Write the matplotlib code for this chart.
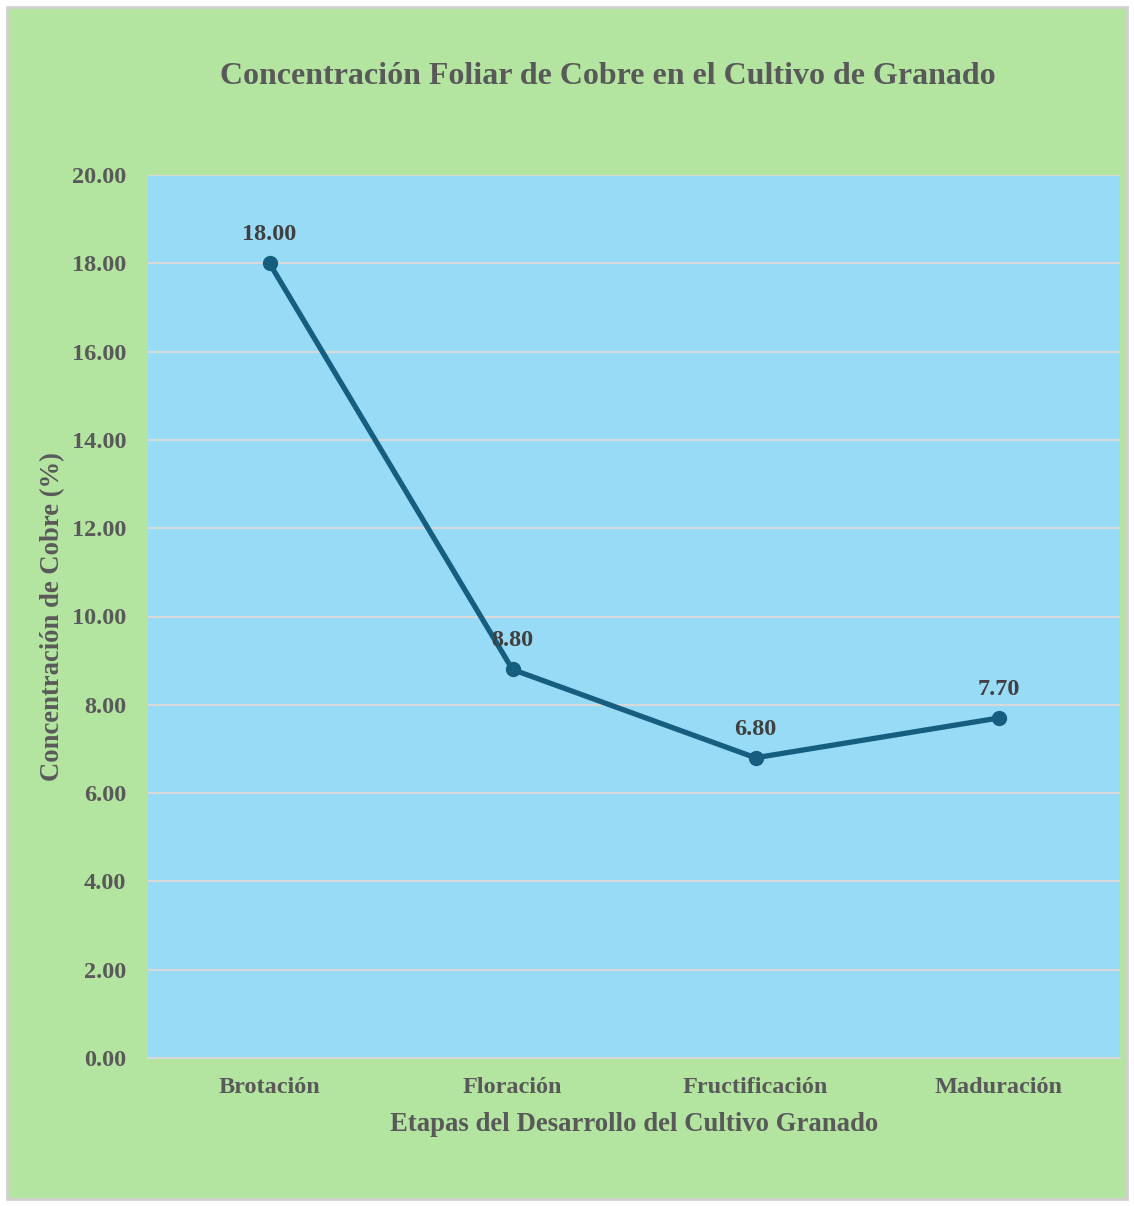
import matplotlib
matplotlib.use("Agg")
import matplotlib.pyplot as plt
from matplotlib.patches import Rectangle

etapas = ["Brotación", "Floración", "Fructificación", "Maduración"]
cobre = [18.00, 8.80, 6.80, 7.70]
yticks = [0, 2, 4, 6, 8, 10, 12, 14, 16, 18, 20]

plt.rcParams["font.family"] = ["Liberation Serif", "DejaVu Serif"]
plt.rcParams["font.weight"] = "bold"

text_color = "#595959"
green = "#B3E5A1"
blue = "#97DBF7"
line_color = "#165E80"
grid_color = "#D9D9D9"

fig = plt.figure(figsize=(11.34, 12.06), dpi=100)
fig.patch.set_facecolor("white")
fig.patches.append(Rectangle((7 / 1134, 7 / 1206), 1120 / 1134, 1192 / 1206,
                             transform=fig.transFigure, facecolor=green,
                             edgecolor="#D0D0D0", linewidth=2, zorder=-10))

ax = fig.add_axes([148 / 1134, 148 / 1206, 972 / 1134, 883 / 1206])
ax.set_facecolor(blue)
x = list(range(len(etapas)))
ax.plot(x, cobre, color=line_color, linewidth=3.8, marker="o", markersize=10,
        zorder=3, solid_capstyle="round")
for xi, v in zip(x, cobre):
    ax.annotate(f"{v:.2f}", (xi, v), xytext=(0, 13), textcoords="offset points",
                ha="center", va="bottom", fontsize=17.5, fontweight="bold",
                color="#404040", zorder=4)

ax.set_xlim(-0.5, len(etapas) - 0.5)
ax.set_ylim(0, 20)
ax.set_yticks(yticks)
ax.set_yticklabels([f"{t:.2f}" for t in yticks])
ax.set_xticks(x)
ax.set_xticklabels(etapas)
ax.tick_params(axis="both", length=0, labelsize=17.5, colors=text_color)
ax.tick_params(axis="y", pad=15.5)
ax.tick_params(axis="x", pad=14)
ax.grid(axis="y", color=grid_color, linewidth=1.5)
ax.set_axisbelow(True)
for side in ["left", "right", "top"]:
    ax.spines[side].set_visible(False)
ax.spines["bottom"].set_color(grid_color)
ax.spines["bottom"].set_linewidth(1.5)

ax.set_xlabel("Etapas del Desarrollo del Cultivo Granado", fontsize=19.3,
              fontweight="bold", color=text_color, labelpad=10)
ax.set_ylabel("Concentración de Cobre (%)", fontsize=19.2, fontweight="bold",
              color=text_color, labelpad=5)

fig.text(608 / 1134, 1 - 76 / 1206, "Concentración Foliar de Cobre en el Cultivo de Granado",
         ha="center", va="center", fontsize=23, fontweight="bold", color=text_color)

fig.savefig("out.png", dpi=100, facecolor=fig.get_facecolor())
